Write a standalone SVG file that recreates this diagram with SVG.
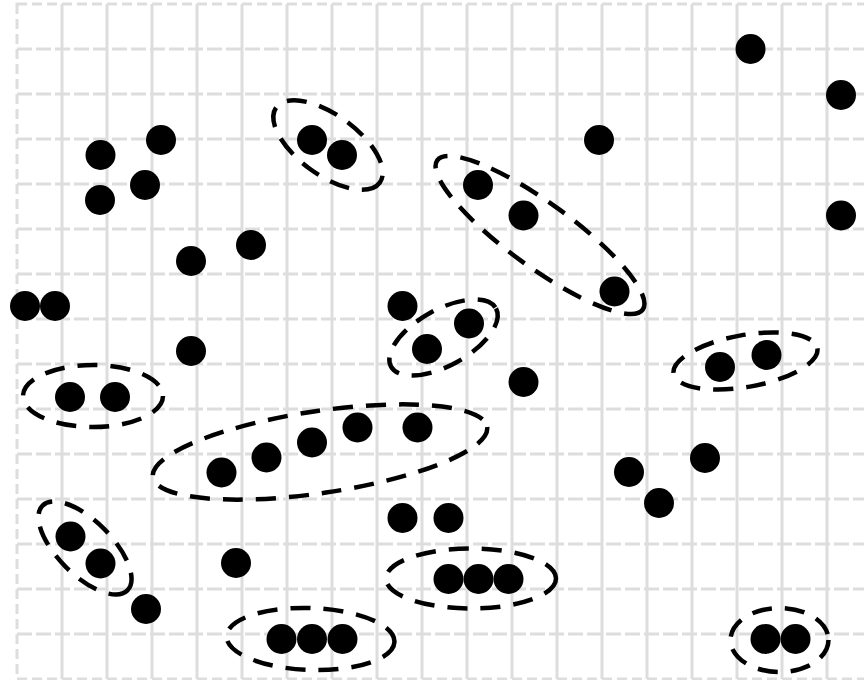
<svg xmlns="http://www.w3.org/2000/svg" width="864" height="680" viewBox="0 0 864 680">
<style>
.bg{fill:#ffffff}
.v{stroke:#dddddd;stroke-width:3;fill:none}
.h{stroke:#dddddd;stroke-width:3;fill:none;stroke-dasharray:15 4}
.b{stroke:#dddddd;stroke-width:3;fill:none;stroke-dasharray:10 5}
.d{fill:#000000}
.e{fill:none;stroke:#000000;stroke-width:4.5;stroke-dasharray:20 13}
</style>
<rect class="bg" x="0" y="0" width="864" height="680"/>
<g id="grid">
<path class="v" d="M62 4V679M107 4V679M152 4V679M197 4V679M242 4V679M287 4V679M332 4V679M377 4V679M422 4V679M467 4V679M512 4V679M557 4V679M602 4V679M647 4V679M692 4V679M737 4V679M782 4V679M827 4V679"/>
<path class="h" d="M17 49H864M17 94H864M17 139H864M17 184H864M17 229H864M17 274H864M17 319H864M17 364H864M17 409H864M17 454H864M17 499H864M17 544H864M17 589H864M17 634H864"/>
<rect class="b" x="17" y="4" width="860" height="675"/>
</g>
<g id="connectors"></g>
<g id="dots-a"><circle class="d" cx="100.5" cy="155" r="15"/><circle class="d" cx="161" cy="140" r="15"/><circle class="d" cx="100" cy="200" r="15"/><circle class="d" cx="145" cy="185" r="15"/></g>
<g id="cluster-a"><ellipse class="e" cx="328" cy="145" rx="64" ry="30" transform="rotate(36 328 145)"/><circle class="d" cx="312" cy="140" r="15"/><circle class="d" cx="342" cy="155" r="15"/></g>
<g id="dots-b"><circle class="d" cx="191" cy="261" r="15"/><circle class="d" cx="251" cy="245" r="15"/><circle class="d" cx="25" cy="306" r="15"/><circle class="d" cx="55" cy="306" r="15"/><circle class="d" cx="191" cy="351" r="15"/></g>
<g id="cluster-c"><ellipse class="e" cx="93" cy="396" rx="70" ry="31"/><circle class="d" cx="70" cy="397" r="15"/><circle class="d" cx="115" cy="397" r="15"/></g>
<g id="cluster-b"><ellipse class="e" cx="540" cy="235" rx="127" ry="32" transform="rotate(36 540 235)"/><circle class="d" cx="478" cy="185" r="15"/><circle class="d" cx="523.5" cy="215.5" r="15"/><circle class="d" cx="614.5" cy="291.5" r="15"/></g>
<g id="dots-c"><circle class="d" cx="599" cy="140" r="15"/><circle class="d" cx="750.5" cy="49" r="15"/><circle class="d" cx="841" cy="95" r="15"/><circle class="d" cx="841" cy="215.5" r="15"/><circle class="d" cx="402.5" cy="306" r="15"/><circle class="d" cx="523.5" cy="382" r="15"/></g>
<g id="cluster-f"><ellipse class="e" cx="443.5" cy="337.5" rx="60" ry="28" transform="rotate(-29 443.5 337.5)"/><circle class="d" cx="427" cy="349" r="15"/><circle class="d" cx="469" cy="323.5" r="15"/></g>
<g id="cluster-i"><ellipse class="e" cx="745.5" cy="361" rx="73" ry="26" transform="rotate(-10 745.5 361)"/><circle class="d" cx="720" cy="367" r="15"/><circle class="d" cx="766.5" cy="355" r="15"/></g>
<g id="cluster-d"><ellipse class="e" cx="320" cy="452" rx="169" ry="41" transform="rotate(-8.5 320 452)"/><circle class="d" cx="221.5" cy="472.5" r="15"/><circle class="d" cx="266.5" cy="457.5" r="15"/><circle class="d" cx="312" cy="442.5" r="15"/><circle class="d" cx="357.5" cy="427.5" r="15"/><circle class="d" cx="417.5" cy="427.5" r="15"/></g>
<g id="dots-d"><circle class="d" cx="629" cy="472" r="15"/><circle class="d" cx="659" cy="503" r="15"/><circle class="d" cx="705" cy="458" r="15"/><circle class="d" cx="402.5" cy="518" r="15"/><circle class="d" cx="448.5" cy="518" r="15"/><circle class="d" cx="146" cy="609" r="15"/><circle class="d" cx="236" cy="563" r="15"/></g>
<g id="cluster-e"><ellipse class="e" cx="85" cy="548" rx="60" ry="27" transform="rotate(45 85 548)"/><circle class="d" cx="70.5" cy="536.5" r="15"/><circle class="d" cx="100.5" cy="563.5" r="15"/></g>
<g id="cluster-h"><ellipse class="e" cx="471" cy="578.5" rx="85" ry="30"/><circle class="d" cx="448.5" cy="579" r="15"/><circle class="d" cx="478.5" cy="579" r="15"/><circle class="d" cx="508.5" cy="579" r="15"/></g>
<g id="cluster-g"><ellipse class="e" cx="310.5" cy="639" rx="84" ry="31" transform="rotate(2 310.5 639)"/><circle class="d" cx="281.5" cy="639" r="15"/><circle class="d" cx="312" cy="639" r="15"/><circle class="d" cx="342.5" cy="639" r="15"/></g>
<g id="cluster-j"><ellipse class="e" cx="779.5" cy="640" rx="49" ry="32"/><circle class="d" cx="765.5" cy="639" r="15"/><circle class="d" cx="795.5" cy="639" r="15"/></g>
</svg>
